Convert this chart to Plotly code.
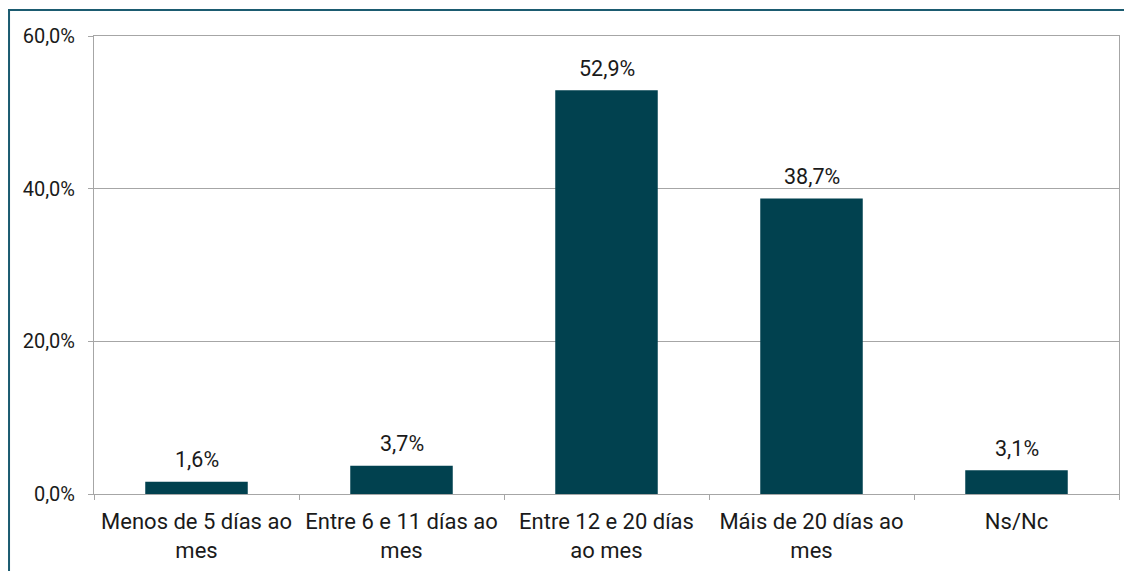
import plotly.graph_objects as go

categories = [
    "Menos de 5 días ao<br>mes",
    "Entre 6 e 11 días ao<br>mes",
    "Entre 12 e 20 días<br>ao mes",
    "Máis de 20 días ao<br>mes",
    "Ns/Nc",
]
values = [1.6, 3.7, 52.9, 38.7, 3.1]
y_tickvals = [0, 20, 40, 60]
y_ticktext = ["0,0%", "20,0%", "40,0%", "60,0%"]

BAR = "#01414F"
GRID = "#A6A6A6"
FONT = "Roboto, Arial, sans-serif"
TXT = "#1a1a1a"

fig = go.Figure()
fig.add_trace(go.Bar(
    x=categories, y=values, marker=dict(color=BAR, line=dict(width=0)),
    hoverinfo="skip",
))

annotations = []
for c, v in zip(categories, values):
    annotations.append(dict(
        x=c, y=v, xref="x", yref="y", text=f"{v:.1f}%".replace(".", ","),
        showarrow=False, yanchor="middle", yshift=22,
        font=dict(family=FONT, size=21.5, color=TXT),
    ))

fig.update_layout(
    width=1132, height=571,
    margin=dict(l=86, r=21, t=28, b=85),
    paper_bgcolor="white", plot_bgcolor="white",
    bargap=0.5,
    showlegend=False,
    font=dict(family=FONT, size=20, color=TXT),
    annotations=annotations,
    shapes=[dict(
        type="rect", xref="paper", yref="paper",
        x0=-0.0829, x1=1.1, y0=-0.3, y1=1.0568,
        line=dict(color="#1B5B70", width=2), layer="above",
    )],
)
fig.update_xaxes(
    showgrid=False, showline=True, linecolor=GRID, linewidth=1, mirror=True,
    ticks="outside", tickson="boundaries", ticklen=5, tickcolor=GRID,
    ticklabelstandoff=8,
    tickfont=dict(family=FONT, size=22, color=TXT),
)
fig.update_yaxes(
    range=[0, 60], tickvals=y_tickvals, ticktext=y_ticktext,
    showgrid=True, gridcolor=GRID, gridwidth=1,
    showline=True, linecolor=GRID, linewidth=1, mirror=True,
    ticks="outside", ticklen=5, tickcolor=GRID, zeroline=False,
    ticklabelstandoff=9,
    tickfont=dict(family=FONT, size=20, color=TXT),
)

fig.write_html("out.html")
